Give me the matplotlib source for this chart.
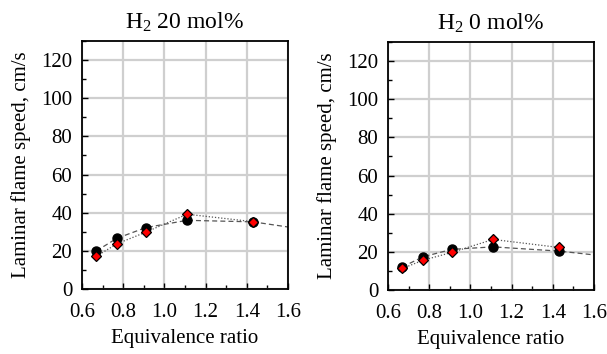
import matplotlib
matplotlib.use("Agg")
import matplotlib.pyplot as plt
from matplotlib.ticker import MultipleLocator

plt.rcParams['font.family'] = ['Liberation Serif', 'DejaVu Serif']
plt.rcParams['mathtext.fontset'] = 'custom'
plt.rcParams['mathtext.rm'] = 'Liberation Serif'
plt.rcParams['mathtext.it'] = 'Liberation Serif:italic'

# Equivalence ratios of the measurements
phi = [0.67, 0.77, 0.91, 1.11, 1.43]
# Calculated curve (dashed) extends to phi = 1.6
phi_calc = [0.67, 0.77, 0.91, 1.11, 1.43, 1.60]

# H2 20 mol%
calc_h2_20 = [20.0, 26.6, 32.2, 36.0, 35.2, 32.5]
meas_h2_20 = [17.2, 23.7, 29.8, 39.2, 35.3]

# H2 0 mol%
calc_h2_0 = [12.1, 17.4, 21.3, 22.6, 20.4, 18.4]
meas_h2_0 = [11.3, 15.6, 19.7, 26.5, 22.3]

titles = [r"H$_\mathrm{2}$ 20 mol%", r"H$_\mathrm{2}$ 0 mol%"]
xticks = [0.6, 0.8, 1.0, 1.2, 1.4, 1.6]
xticklabels = ["0.6", "0.8", "1.0", "1.2", "1.4", "1.6"]
yticks = [0, 20, 40, 60, 80, 100, 120]

fig = plt.figure(figsize=(6.07, 3.54), dpi=100)
axes = [
    fig.add_axes([82 / 607, 65 / 354, 206 / 607, 248 / 354]),
    fig.add_axes([388 / 607, 64 / 354, 206 / 607, 248 / 354]),
]

datasets = [(calc_h2_20, meas_h2_20), (calc_h2_0, meas_h2_0)]

for ax, title, (calc, meas) in zip(axes, titles, datasets):
    ax.set_xlim(0.6, 1.6)
    ax.set_ylim(0, 130)
    ax.set_xticks(xticks)
    ax.set_xticklabels(xticklabels)
    ax.set_yticks(yticks)
    ax.xaxis.set_minor_locator(MultipleLocator(0.1))
    ax.yaxis.set_minor_locator(MultipleLocator(10))
    ax.grid(True, which='major', color='#cfcfcf', linewidth=1.6, zorder=0)
    ax.set_axisbelow(True)
    ax.tick_params(which='major', direction='in', length=4, width=1,
                   labelsize=15, colors='black')
    ax.tick_params(axis='x', which='major', pad=10)
    ax.tick_params(axis='y', which='major', pad=7)
    ax.tick_params(which='minor', direction='in', length=3, width=1)
    for s in ax.spines.values():
        s.set_linewidth(1.3)
        s.set_color('black')

    # calculated curve and its points
    ax.plot(phi_calc, calc, linestyle=(0, (4, 2.5)), color='#555555',
            linewidth=0.9, zorder=2)
    ax.plot(phi, calc[:len(phi)], linestyle='none', marker='o',
            markersize=6.5, color='black', zorder=3)
    # measured values
    ax.plot(phi, meas, linestyle=(0, (1, 1.5)), color='#555555',
            linewidth=0.9, zorder=2)
    ax.plot(phi, meas, linestyle='none', marker='D', markersize=5.5,
            markerfacecolor='#ff0000', markeredgecolor='black',
            markeredgewidth=0.9, zorder=4)

    ax.set_title(title, fontsize=17, pad=9)
    ax.set_xlabel("Equivalence ratio", fontsize=15, labelpad=5)
    ax.set_ylabel("Laminar flame speed, cm/s", fontsize=15, labelpad=7)

fig.savefig("out.png", dpi=100)
